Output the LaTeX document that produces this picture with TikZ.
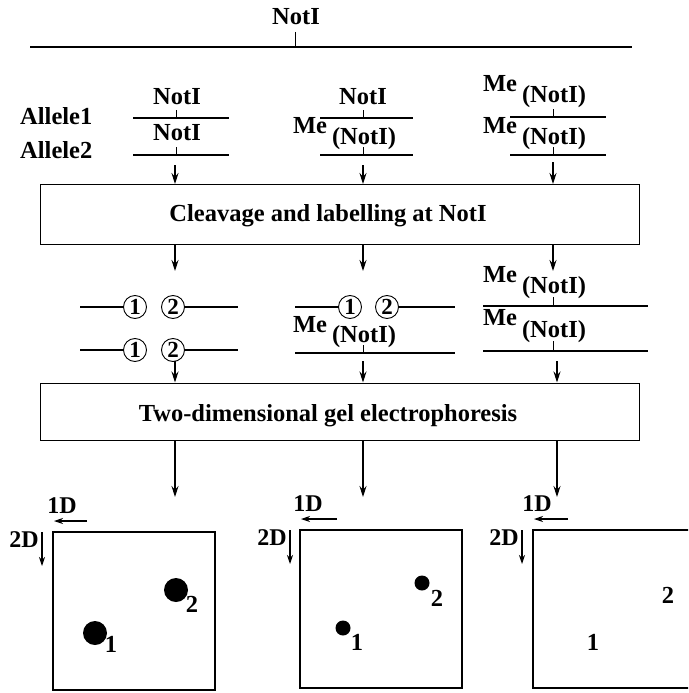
\documentclass[tikz,border=0pt]{standalone}
\usepackage{fontspec}
\setmainfont{Liberation Serif}
\usetikzlibrary{arrows.meta}
\begin{document}
\begin{tikzpicture}[x=1pt,y=-1pt,
  lbl/.style={font=\fontsize{24.5}{25}\selectfont\bfseries, inner sep=0pt, anchor=base},
  ln/.style={line width=1.2pt},
  tick/.style={line width=0.9pt},
  arr/.style={line width=1.1pt, -{Stealth[length=11pt,width=7pt]}},
  sarr/.style={line width=1.1pt, -{Stealth[length=9pt,width=6pt]}},
  stepbox/.style={draw, line width=1pt, minimum width=599pt, minimum height=60pt, inner sep=0pt},
  circ/.style={draw, circle, line width=0.9pt, inner sep=0pt, minimum size=23pt, font=\fontsize{23}{23}\selectfont\bfseries},
  spot/.style={fill=black, circle, inner sep=0pt},
  small/.style={font=\fontsize{24}{24}\selectfont\bfseries, inner sep=0pt, anchor=base}]
\useasboundingbox (0,0) rectangle (688,693);
% top map
\node[lbl] (topN) at (296,25) {NotI};
\coordinate (tl) at (30,47); \coordinate (tr) at (632,47); \coordinate (tt) at (295,32);
\draw[ln] (tl) -- (tr);
\draw[tick] (tt) -- (tt |- tl);
% row labels
\node[lbl, anchor=base west] (al1) at (20,124) {Allele1};
\node[lbl, anchor=base west] (al2) at (20,158) {Allele2};
% column 1
\node[lbl] (n11) at (177,104) {NotI};
\node[lbl] (n12) at (177,140) {NotI};
\coordinate (a1l) at (133,118); \coordinate (a1r) at (229,118);
\coordinate (b1l) at (133,155); \coordinate (b1r) at (229,155);
\draw[ln] (a1l) -- (a1r); \draw[ln] (b1l) -- (b1r);
\coordinate (t11) at (176,110); \coordinate (t12) at (176,147);
\draw[tick] (t11) -- (t11 |- a1l); \draw[tick] (t12) -- (t12 |- b1l);
% column 2
\node[lbl] (n21) at (363,104) {NotI};
\node[lbl] (me21) at (310,133) {Me};
\node[lbl] (n22) at (364,144) {(NotI)};
\coordinate (a2l) at (320,118); \coordinate (a2r) at (413,118);
\coordinate (b2l) at (320,155); \coordinate (b2r) at (413,155);
\draw[ln] (a2l) -- (a2r); \draw[ln] (b2l) -- (b2r);
\coordinate (t21) at (363,110); \coordinate (t22) at (363,147);
\draw[tick] (t21) -- (t21 |- a2l); \draw[tick] (t22) -- (t22 |- b2l);
% column 3
\node[lbl] (me31) at (500,91) {Me};
\node[lbl] (n31) at (554,102) {(NotI)};
\node[lbl] (me32) at (500,133) {Me};
\node[lbl] (n32) at (554,144) {(NotI)};
\coordinate (a3l) at (510,117); \coordinate (a3r) at (606,117);
\coordinate (b3l) at (510,155); \coordinate (b3r) at (606,155);
\draw[ln] (a3l) -- (a3r); \draw[ln] (b3l) -- (b3r);
\coordinate (t31) at (553,109); \coordinate (t32) at (553,147);
\draw[tick] (t31) -- (t31 |- a3l); \draw[tick] (t32) -- (t32 |- b3l);
% box 1
\node[stepbox] (box1) at (339.5,214.5) {};
\node[lbl] (box1t) at (328,221) {Cleavage and labelling at NotI};
\coordinate (s1) at (175,165); \coordinate (s2) at (363,165); \coordinate (s3) at (553,162);
\draw[arr] (s1) -- (s1 |- box1.north);
\draw[arr] (s2) -- (s2 |- box1.north);
\draw[arr] (s3) -- (s3 |- box1.north);
% arrows out of box 1
\coordinate (e1) at (175,271); \coordinate (e2) at (363,271); \coordinate (e3) at (553,271);
\draw[arr] (box1.south -| e1) -- (e1);
\draw[arr] (box1.south -| e2) -- (e2);
\draw[arr] (box1.south -| e3) -- (e3);
% row 3 column 1
\node[circ] (c11) at (135,307) {1};
\node[circ] (c12) at (173,307) {2};
\node[circ] (c13) at (135,350) {1};
\node[circ] (c14) at (173,350) {2};
\coordinate (r1l) at (80,307); \coordinate (r1r) at (238,307);
\coordinate (r2l) at (80,350); \coordinate (r2r) at (238,350);
\draw[ln] (r1l) -- (c11.west); \draw[ln] (c12.east) -- (r1r);
\draw[ln] (r2l) -- (c13.west); \draw[ln] (c14.east) -- (r2r);
% row 3 column 2
\node[circ] (c21) at (350,307) {1};
\node[circ] (c22) at (387,307) {2};
\coordinate (r3l) at (295,307); \coordinate (r3r) at (455,307);
\draw[ln] (r3l) -- (c21.west); \draw[ln] (c22.east) -- (r3r);
\node[lbl] (me23) at (310,332) {Me};
\node[lbl] (n23) at (364,342) {(NotI)};
\coordinate (r4l) at (295,353); \coordinate (r4r) at (455,353);
\draw[ln] (r4l) -- (r4r);
\coordinate (t23) at (363,345); \draw[tick] (t23) -- (t23 |- r4l);
% row 3 column 3
\node[lbl] (me33) at (500,282) {Me};
\node[lbl] (n33) at (554,293) {(NotI)};
\coordinate (r5l) at (483,306); \coordinate (r5r) at (648,306);
\draw[ln] (r5l) -- (r5r);
\coordinate (t33) at (553,297); \draw[tick] (t33) -- (t33 |- r5l);
\node[lbl] (me34) at (500,325) {Me};
\node[lbl] (n34) at (554,337) {(NotI)};
\coordinate (r6l) at (483,351); \coordinate (r6r) at (648,351);
\draw[ln] (r6l) -- (r6r);
\coordinate (t34) at (553,341); \draw[tick] (t34) -- (t34 |- r6l);
% box 2
\node[stepbox, minimum height=57pt] (box2) at (339.5,411.5) {};
\node[lbl] (box2t) at (328,421) {Two-dimensional gel electrophoresis};
\coordinate (u1) at (175,361); \coordinate (u2) at (363,361); \coordinate (u3) at (557,361);
\draw[arr] (u1) -- (u1 |- box2.north);
\draw[arr] (u2) -- (u2 |- box2.north);
\draw[arr] (u3) -- (u3 |- box2.north);
\coordinate (v1) at (175,497); \coordinate (v2) at (363,497); \coordinate (v3) at (557,497);
\draw[arr] (box2.south -| v1) -- (v1);
\draw[arr] (box2.south -| v2) -- (v2);
\draw[arr] (box2.south -| v3) -- (v3);
% gels
\begin{scope}
\clip (0,0) rectangle (688,693);
\draw[line width=1.2pt] (53,532) rectangle (215,690);
\draw[line width=1.2pt] (300,530) rectangle (462,688);
\draw[line width=1.2pt] (533,530) rectangle (695,688);
\end{scope}
% gel 1
\node[small] (d11) at (62,513) {1D};
\coordinate (h1a) at (87,521); \coordinate (h1b) at (54,521);
\draw[sarr] (h1a) -- (h1b);
\node[small, anchor=base east] (d12) at (39,547) {2D};
\coordinate (w1a) at (42,532); \coordinate (w1b) at (42,566);
\draw[sarr] (w1a) -- (w1b);
\node[spot, minimum width=22pt, minimum height=24pt] (g12) at (176,590) {};
\node[lbl] (g12t) at (192,612) {2};
\node[spot, minimum width=22pt, minimum height=24pt] (g11) at (95,633) {};
\node[lbl] (g11t) at (111,652) {1};
% gel 2
\node[small] (d21) at (308,511) {1D};
\coordinate (h2a) at (337,519); \coordinate (h2b) at (301,519);
\draw[sarr] (h2a) -- (h2b);
\node[small, anchor=base east] (d22) at (287,545) {2D};
\coordinate (w2a) at (290,530); \coordinate (w2b) at (290,564);
\draw[sarr] (w2a) -- (w2b);
\node[spot, minimum width=13pt, minimum height=15pt] (g22) at (422,583) {};
\node[lbl] (g22t) at (437,606) {2};
\node[spot, minimum width=13pt, minimum height=15pt] (g21) at (343,628) {};
\node[lbl] (g21t) at (357,650) {1};
% gel 3
\node[small] (d31) at (537,511) {1D};
\coordinate (h3a) at (568,519); \coordinate (h3b) at (534,519);
\draw[sarr] (h3a) -- (h3b);
\node[small, anchor=base east] (d32) at (519,545) {2D};
\coordinate (w3a) at (522,530); \coordinate (w3b) at (522,564);
\draw[sarr] (w3a) -- (w3b);
\node[lbl] (g32t) at (668,603) {2};
\node[lbl] (g31t) at (593,650) {1};
\end{tikzpicture}
\end{document}
